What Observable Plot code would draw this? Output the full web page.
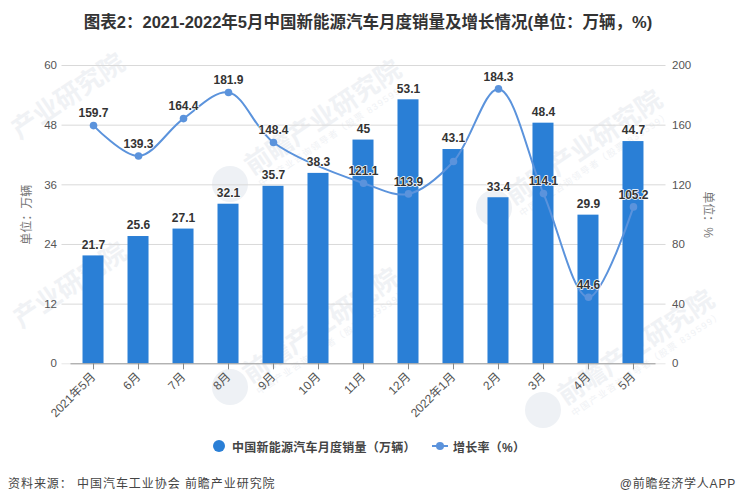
<!DOCTYPE html>
<html><head><meta charset="utf-8">
<script src="https://cdn.jsdelivr.net/npm/d3@7"></script>
<script src="https://cdn.jsdelivr.net/npm/@observablehq/plot@0.6"></script>
<style>
html,body{margin:0;padding:0;background:#fff;width:736px;height:502px;overflow:hidden}
body{position:relative;font-family:"Liberation Sans","Noto Sans CJK SC",sans-serif}
#title{height:45px;line-height:45px;text-align:center;font-weight:bold;font-size:16.5px;color:#333;position:relative;z-index:2;white-space:nowrap}
#chart{position:relative;z-index:2;height:390px}
#chart svg{background:transparent;display:block}
#legend{position:absolute;left:0;top:434px;width:736px;height:24px;z-index:2;font-size:12px;letter-spacing:.25px;font-weight:bold;color:#444}
#legend span{position:absolute;top:4px;white-space:nowrap}
.dot1{position:absolute;left:213px;top:6px;width:12px;height:12px;border-radius:50%;background:#2a7fd6}
.ln{position:absolute;left:432px;top:11px;width:16px;height:2px;background:#5b93dc}
.dot2{position:absolute;left:436px;top:8px;width:8px;height:8px;border-radius:50%;background:#5b93dc}
#foot{position:absolute;left:8px;top:474px;font-size:12px;letter-spacing:.95px;color:#444;z-index:2;white-space:nowrap}
#credit{position:absolute;right:0;top:474px;font-size:12px;letter-spacing:.8px;color:#444;z-index:2;white-space:nowrap}
.wm{position:absolute;z-index:1;font-weight:bold;font-size:26px;line-height:30px;color:#f0f2f5;white-space:nowrap;text-align:center;transform:translate(-50%,-50%) rotate(-34deg)}
.wm small{display:block;font-size:9px;line-height:11px;font-weight:normal;letter-spacing:1.5px}
.lg{position:absolute;z-index:1;width:36px;height:36px;border-radius:50%;background:#eef1f5;transform:translate(-50%,-50%)}
</style></head><body>
<div id="title">图表2：2021-2022年5月中国新能源汽车月度销量及增长情况(单位：万辆，%)</div>
<div id="chart"></div>
<div id="legend"><i class="dot1"></i><span style="left:232px">中国新能源汽车月度销量（万辆）</span><i class="ln"></i><i class="dot2"></i><span style="left:453px">增长率（%）</span></div>
<div id="foot">资料来源： 中国汽车工业协会 前瞻产业研究院</div>
<div id="credit">@前瞻经济学人APP</div>
<div class="wm" style="left:68px;top:96px">产业研究院</div>
<div class="wm" style="left:70px;top:285px">产业研究院</div>
<div class="wm" style="left:326px;top:122px">前瞻产业研究院<small>中国产业咨询领导者（股票 839599）</small></div>
<div class="wm" style="left:587px;top:152px">前瞻产业研究院<small>中国产业咨询领导者（股票 839599）</small></div>
<div class="wm" style="left:324px;top:330px">前瞻产业研究院<small>中国产业咨询领导者（股票 839599）</small></div>
<div class="wm" style="left:639px;top:352px">前瞻产业研究院<small>中国产业咨询领导者（股票 839599）</small></div>
<div class="lg" style="left:230px;top:184px"></div>
<div class="lg" style="left:494px;top:208px"></div>
<div class="lg" style="left:230px;top:387px"></div>
<div class="lg" style="left:543px;top:410px"></div>
<script>
const months = ["2021年5月","6月","7月","8月","9月","10月","11月","12月","2022年1月","2月","3月","4月","5月"];
const sales = [21.7,25.6,27.1,32.1,35.7,38.3,45,53.1,43.1,33.4,48.4,29.9,44.7];
const growth = [159.7,139.3,164.4,181.9,148.4,null,121.1,113.9,135.6,184.3,114.1,44.6,105.2];
const growthLabels = ["159.7","139.3","164.4","181.9","148.4","","121.1","113.9","","184.3","114.1","44.6","105.2"];
const leftTicks = [0,12,24,36,48,60];
const rightTicks = [0,40,80,120,160,200];
const ratio = 60/200;
const bars = months.map((m,i)=>({m,v:sales[i]}));
// Points that have a value; the line runs through these.
const pts = months.map((m,i)=>({m,v:growth[i],l:growthLabels[i]})).filter(d=>d.v!=null);
const fontFamily = '"Liberation Sans","Noto Sans CJK SC",sans-serif';
const grey = "#555";
const plot = Plot.plot({
  width:736,height:390,marginLeft:70.5,marginRight:80.5,marginTop:20,marginBottom:71.7,
  style:{fontFamily,fontSize:"11.5px",background:"transparent"},
  x:{type:"band",domain:months,paddingInner:0.533,paddingOuter:0.267,round:false,label:null},
  y:{domain:[0,60],label:null},
  marks:[
    Plot.ruleY(leftTicks.filter(d=>d>0),{stroke:"#d9d9d9",insetLeft:-9,insetRight:-10}),
    Plot.ruleY([0],{stroke:"#e6e6e6",insetLeft:-9,insetRight:-10}),
    Plot.barY(bars,{x:"m",y:"v",fill:"#2a7fd6"}),
    Plot.ruleY([0],{stroke:"#999"}),
    Plot.axisY({anchor:"left",ticks:leftTicks,tickSize:0,tickPadding:14,color:grey,label:null}),
    Plot.axisY({anchor:"right",ticks:rightTicks.map(d=>d*ratio),tickFormat:d=>String(Math.round(d/ratio)),tickSize:0,tickPadding:16,color:grey,label:null}),
    Plot.axisX({tickRotate:-45,tickSize:6,tickPadding:5,stroke:"#888",color:grey,fontSize:12,label:null}),
    Plot.text(["单位：万辆"],{text:d=>d,frameAnchor:"left",textAnchor:"middle",rotate:-90,dx:-43.5,fontSize:12,fill:"#777"}),
    Plot.text(["单位：%"],{text:d=>d,frameAnchor:"right",textAnchor:"middle",rotate:90,dx:51.5,fontSize:12,fill:"#777"}),
    Plot.line(pts,{x:"m",y:d=>d.v*ratio,stroke:"#5b93dc",strokeWidth:2,curve:"catmull-rom"}),
    Plot.dot(pts,{x:"m",y:d=>d.v*ratio,r:3.8,fill:"#5b93dc"}),
    Plot.text(bars,{x:"m",y:"v",text:d=>String(d.v),dy:-11,fontWeight:"bold",fontSize:12,fill:"#333",stroke:"white",strokeWidth:1.5}),
    Plot.text(pts,{x:"m",y:d=>d.v*ratio,text:"l",dy:-12,fontWeight:"bold",fontSize:12,fill:"#333",stroke:"white",strokeWidth:1.5})
  ]
});
document.getElementById("chart").append(plot);
</script></body></html>
